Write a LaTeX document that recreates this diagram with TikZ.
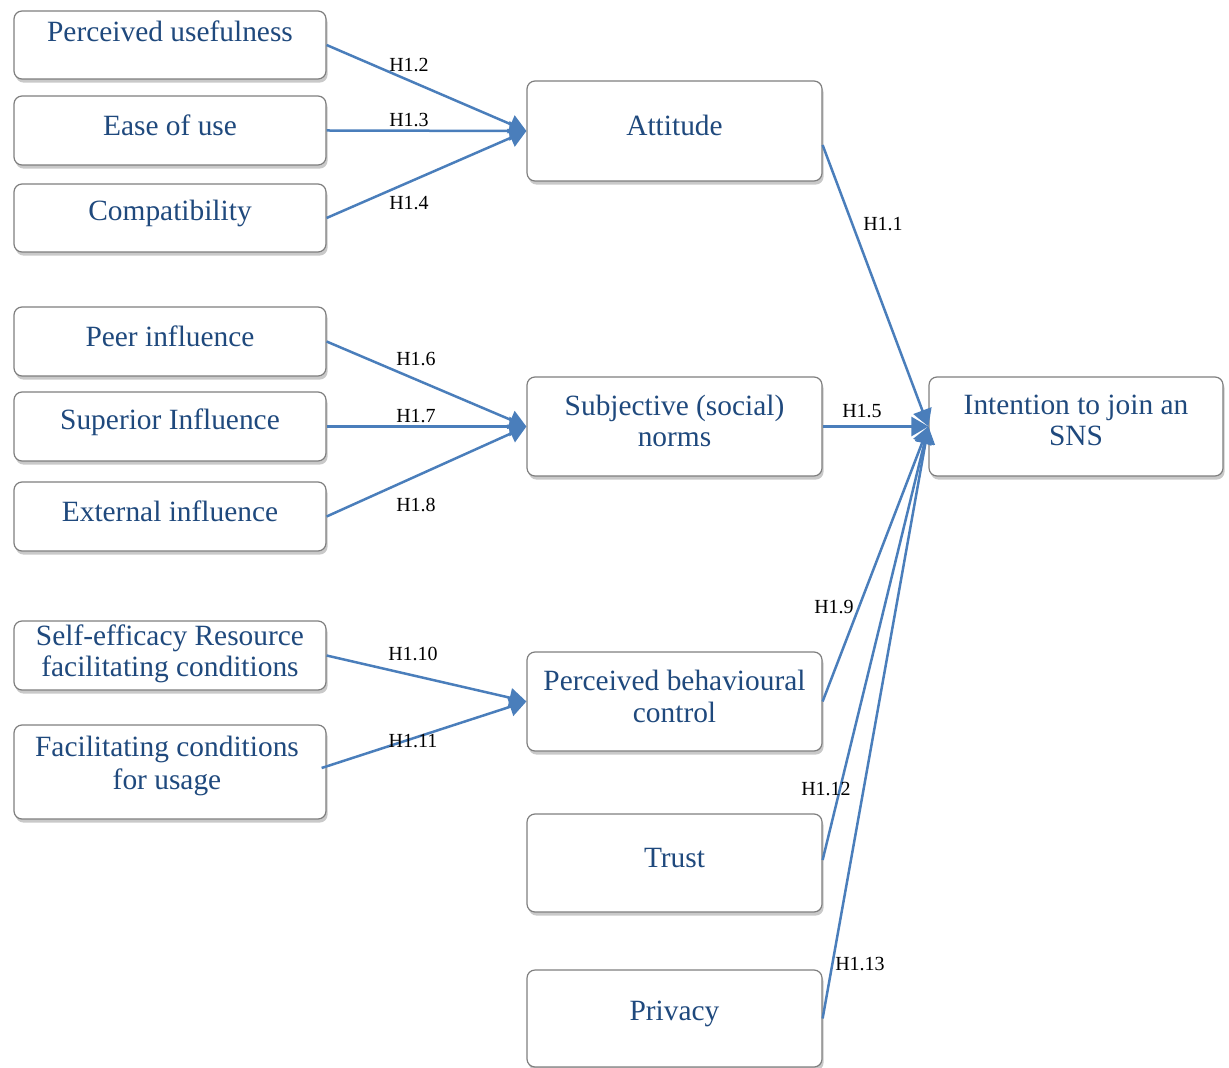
\documentclass[tikz,border=0pt]{standalone}
\usepackage{fontspec}
\setmainfont{Liberation Serif}
\usetikzlibrary{arrows.meta,shadows,calc}
\definecolor{txtblue}{HTML}{1F497D}
\definecolor{linkblue}{HTML}{4A7EBB}
\definecolor{framegray}{HTML}{7F7F7F}
\begin{document}
\begin{tikzpicture}[x=0.5pt,y=-0.5pt,
  box/.style={draw=framegray, line width=0.6pt, fill=white, rounded corners=4pt,
    drop shadow={shadow xshift=0.8pt, shadow yshift=-1.8pt, opacity=0.3, fill=black!70},
    inner sep=0pt},
  lbox/.style={box, minimum width=156pt},
  mbox/.style={box, minimum width=147.5pt},
  txt/.style={text=txtblue, font=\fontsize{14.7}{15.5}\selectfont, align=center, inner sep=0pt},
  hyp/.style={font=\fontsize{10}{12}\selectfont, inner sep=0pt},
  link/.style={draw=linkblue, line width=1.25pt, -{Triangle[length=8.5pt,width=9.5pt]}}]
\useasboundingbox (0,0) rectangle (1229,1068);

% left column: antecedent constructs
\node[lbox, minimum height=34pt]   (pu)  at (170,45)    {};
\node[lbox, minimum height=34.5pt] (eou) at (170,130.5) {};
\node[lbox, minimum height=34pt]   (cmp) at (170,218)   {};
\node[lbox, minimum height=34.5pt] (pi)  at (170,341.5) {};
\node[lbox, minimum height=34.5pt] (si)  at (170,426.5) {};
\node[lbox, minimum height=34.5pt] (ei)  at (170,516.5) {};
\node[lbox, minimum height=34.5pt] (se)  at (170,655.5) {};
\node[lbox, minimum height=47pt]   (fc)  at (170,772)   {};

% middle column: TPB constructs
\node[mbox, minimum height=50pt]   (att) at (674.5,131)   {};
\node[mbox, minimum height=49.5pt] (sn)  at (674.5,426.5) {};
\node[mbox, minimum height=49.5pt] (pbc) at (674.5,701.5) {};
\node[mbox, minimum height=49pt]   (tr)  at (674.5,863)   {};
\node[mbox, minimum height=48.5pt] (pr)  at (674.5,1018.5){};

% outcome
\node[box, minimum width=147pt, minimum height=49.5pt] (int) at (1076,426.5) {};

% box texts
\node[txt] (pu-t)  at (170,31)  {Perceived usefulness};
\node[txt] (eou-t) at (170,125) {Ease of use};
\node[txt] (cmp-t) at (170,213) {Compatibility};
\node[txt] (pi-t)  at (170,336) {Peer influence};
\node[txt] (si-t)  at (170,422) {Superior Influence};
\node[txt] (ei-t)  at (170,511) {External influence};
\node[txt] (se-t)  at (170,654) {Self-efficacy Resource\\facilitating conditions};
\node[txt, font=\fontsize{14.7}{16.5}\selectfont] (fc-t) at (167,765.5) {Facilitating conditions\\for usage};
\node[txt] (att-t) at (674.5,125) {Attitude};
\node[txt] (sn-t)  at (674.5,420.5) {Subjective (social)\\norms};
\node[txt, font=\fontsize{14.7}{16}\selectfont] (pbc-t) at (674.5,696) {Perceived behavioural\\control};
\node[txt] (tr-t)  at (674.5,858) {Trust};
\node[txt] (pr-t)  at (674.5,1014) {Privacy};
\node[txt] (int-t) at (1076,420.5) {Intention to join an\\SNS};

% hypothesised paths
\draw[link] (pu.east)  -- (att.west);
\draw[link] (eou.east) -- (att.west);
\draw[link] (cmp.east) -- (att.west);
\draw[link] (pi.east)  -- (sn.west);
\draw[link] (si.east)  -- (sn.west);
\draw[link] (ei.east)  -- (sn.west);
\draw[link] (se.east)  -- (pbc.west);
\draw[link] ($(fc.east)+(-5,-4)$) -- (pbc.west);
\draw[link] ($(att.east)+(0,14)$) -- (int.west);
\draw[link] (sn.east)  -- (int.west);
\draw[link] (pbc.east) -- (int.west);
\draw[link] ($(tr.east)+(0,-3)$) -- (int.west);
\draw[link] (pr.east)  -- (int.west);

% path labels
\node[hyp] (h12)  at (409,65)  {H1.2};
\node[hyp] (h13)  at (409,120) {H1.3};
\node[hyp] (h14)  at (409,203) {H1.4};
\node[hyp] (h11)  at (883,224) {H1.1};
\node[hyp] (h16)  at (416,359) {H1.6};
\node[hyp] (h17)  at (416,416) {H1.7};
\node[hyp] (h18)  at (416,505) {H1.8};
\node[hyp] (h15)  at (862,411) {H1.5};
\node[hyp] (h19)  at (834,607) {H1.9};
\node[hyp] (h110) at (413,654) {H1.10};
\node[hyp] (h111) at (413,741) {H1.11};
\node[hyp] (h112) at (826,789) {H1.12};
\node[hyp] (h113) at (860,964) {H1.13};
\end{tikzpicture}
\end{document}
